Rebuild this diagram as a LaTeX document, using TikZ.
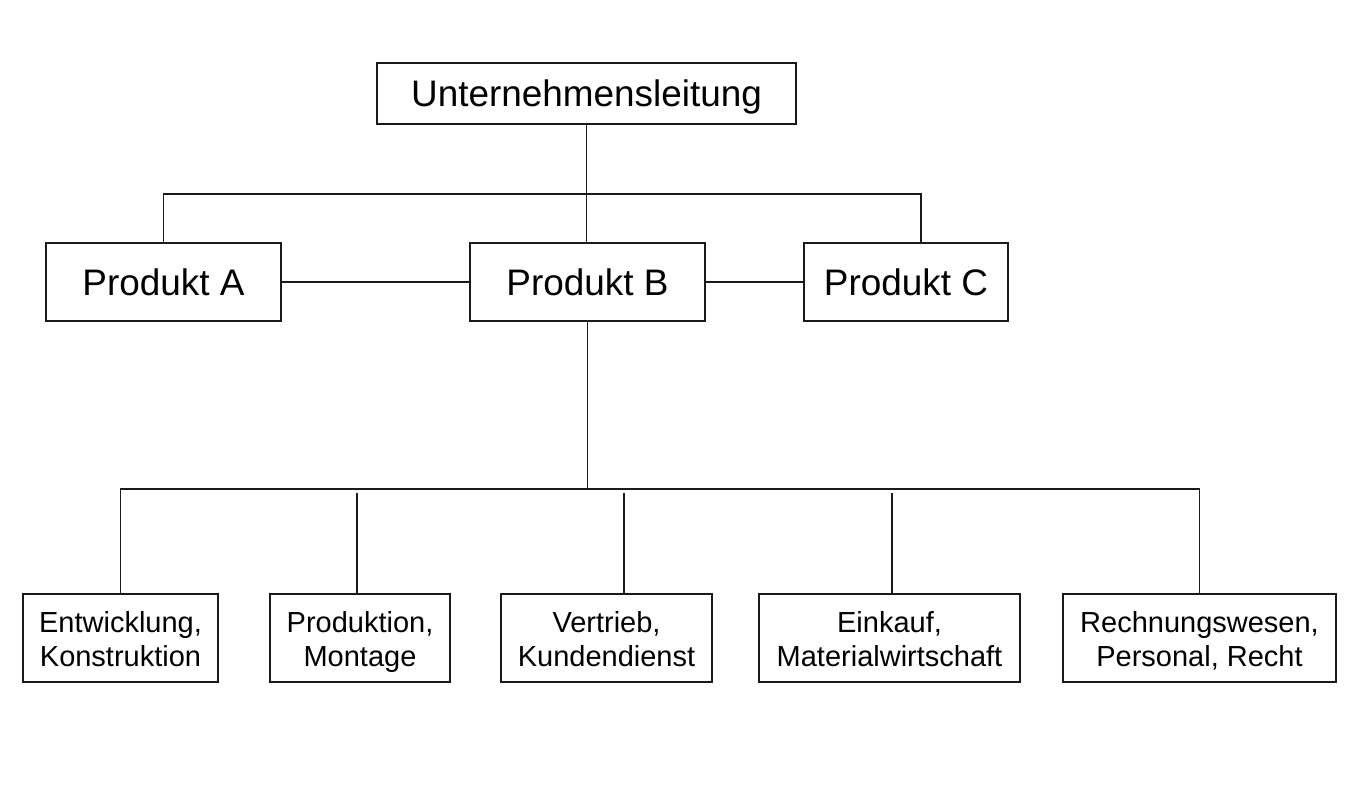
\documentclass[tikz,border=0pt]{standalone}
\usepackage{fontspec}
\setmainfont{Liberation Sans}
\usepackage{xcolor}
\usepackage{tikz}
\usetikzlibrary{positioning, calc}
\definecolor{inkline}{HTML}{1A1A1A}

\begin{document}
\begin{tikzpicture}[
  chief/.style={
    draw=inkline, line width=1.2pt, minimum width=8.38cm, minimum height=1.22cm,
    inner sep=0pt, text height=15.3pt, text depth=0pt,
    font=\fontsize{21}{25}\selectfont
  },
  product/.style={
    draw=inkline, line width=1.2pt, minimum height=1.56cm,
    inner sep=0pt, font=\fontsize{21}{25}\selectfont
  },
  dept/.style={
    draw=inkline, line width=1.2pt, minimum height=1.76cm, inner sep=0pt,
    align=center, text height=36.9pt, text depth=4pt,
    font=\fontsize{16.5}{19.8}\selectfont
  },
  link/.style={draw=inkline, line width=0.8pt}
]
  \useasboundingbox (0,0) rectangle (27.4,-15.98);

  \node[chief] (lead) at (11.73,-1.87) {Unternehmensleitung};

  \node[product, minimum width=4.7cm]  (pa) at (3.27,-5.64)  {Produkt A};
  \node[product, minimum width=4.7cm]  (pb) at (11.75,-5.64) {Produkt B};
  \node[product, minimum width=4.08cm] (pc) at (18.12,-5.64) {Produkt C};

  \node[dept, minimum width=3.9cm]  (dev)  at (2.41,-12.76)  {Entwicklung,\\Konstruktion};
  \node[dept, minimum width=3.6cm]  (prod) at (7.2,-12.76)   {Produktion,\\Montage};
  \node[dept, minimum width=4.22cm] (sale) at (12.13,-12.76) {Vertrieb,\\Kundendienst};
  \node[dept, minimum width=5.22cm] (buy)  at (17.79,-12.76) {Einkauf,\\Materialwirtschaft};
  \node[dept, minimum width=5.46cm] (acct) at (23.99,-12.76) {Rechnungswesen,\\Personal, Recht};

  % upper level
  \coordinate (topbus) at (18.42,-3.88);
  \draw[link] (lead.south) -- (lead.south |- pb.north);
  \draw[link] (pa.north) |- (topbus) -- (topbus |- pc.north);
  \draw[link] (pa) -- (pb);
  \draw[link] (pb) -- (pc);

  % lower level
  \coordinate (lowbus) at (23.99,-9.78);
  \draw[link] (pb.south) -- (pb.south |- lowbus);
  \draw[link] (dev.north) |- (lowbus) -- (acct.north);
  \foreach \x/\d in {7.14/prod, 12.48/sale, 17.84/buy}{
    \coordinate (tap) at (\x,-9.86);
    \draw[link] (tap) -- (tap |- \d.north);
  }
\end{tikzpicture}
\end{document}
